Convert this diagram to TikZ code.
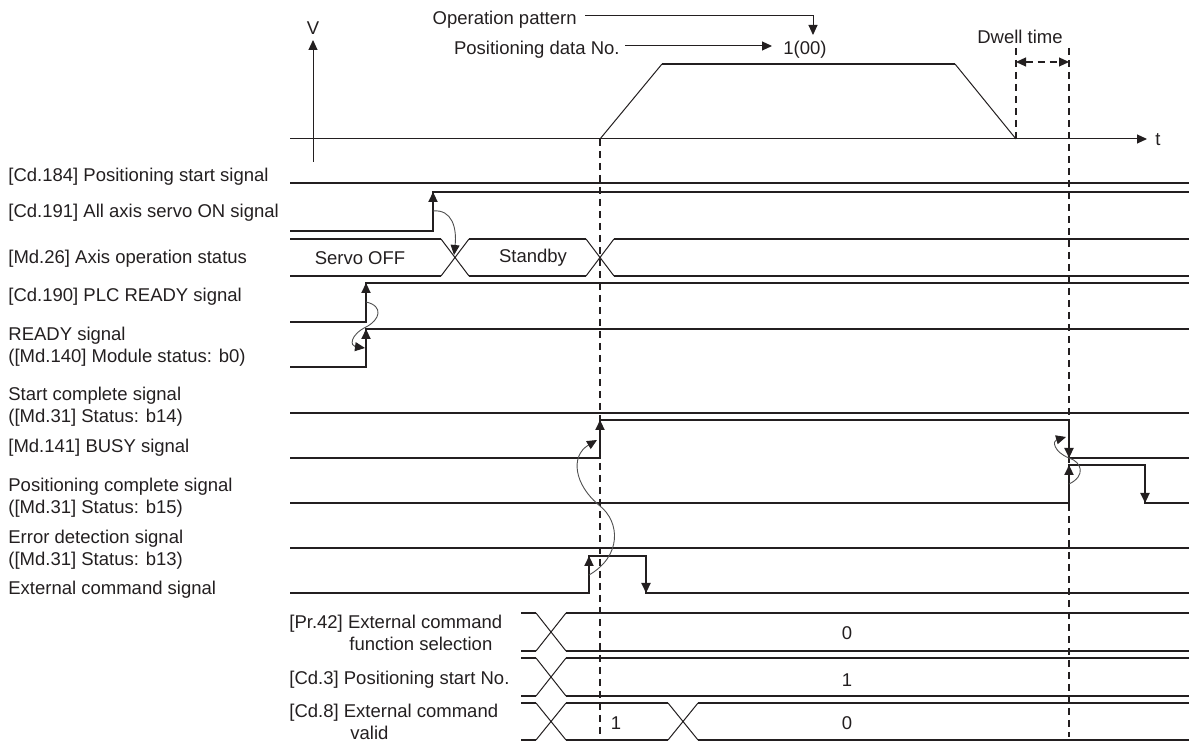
\documentclass[tikz,border=0pt]{standalone}
\usepackage{fontspec}
\setmainfont{Liberation Sans}
\usetikzlibrary{arrows.meta}
\definecolor{ink}{HTML}{231F20}
\definecolor{soft}{HTML}{505050}
\tikzset{
  sig/.style={ink, line width=1.1pt},
  thinl/.style={ink, line width=0.5pt},
  guide/.style={ink, line width=0.55pt, dash pattern=on 3.5pt off 2.5pt},
  curv/.style={draw=soft, line width=0.45pt, -{Triangle[width=4.5pt,length=5pt,color=ink]}},
  lbl/.style={anchor=west, inner sep=0pt, align=left},
  txt/.style={inner sep=0pt}
}

\begin{document}
\begin{tikzpicture}[x=0.5pt, y=-0.5pt, font=\fontsize{9.25}{11}\selectfont, color=ink, >={Triangle[width=4.5pt,length=5pt]}]
    \useasboundingbox (0,0) rectangle (1189,742);
    % speed pattern
    \draw[thinl,->] (313,162) -- (313,40);
    \draw[thinl,->] (290,139) -- (1147,139);
    \node[txt] (vlab) at (313,28) {V};
    \node[txt, anchor=west] (tlab) at (1155,140) {t};
    \draw[thinl] (600,139) -- (662,64);
    \draw[sig] (662,64) -- (955,64);
    \draw[thinl] (955,64) -- (1016,139);
    \node[txt, anchor=base east] (oppat) at (577,25) {Operation pattern};
    \node[txt, anchor=base east] (posno) at (620,55) {Positioning data No.};
    \node[txt, anchor=base west] (dnum) at (783,55) {1(00)};
    \coordinate (optip) at (813,35);
    \draw[thinl,->] ([xshift=4pt]oppat.east |- 0,16) -| (optip);
    \draw[thinl,->] ([xshift=2.5pt]posno.east |- 0,46) -- ([xshift=-5.5pt]dnum.west |- 0,46);
    \node[txt, anchor=base] (dwell) at (1020,44) {Dwell time};
    \draw[guide] (1016,48) -- (1016,139);
    \draw[guide] (1069,48) -- (1069,737);
    \draw[guide] (600,139) -- (600,737);
    \draw[guide,<->] (1016,62) -- (1069,62);

    % signal names
    \node[lbl, anchor=base west] (cd184) at (8,182) {[Cd.184] Positioning start signal};
    \node[lbl, anchor=base west] (cd191) at (8,218) {[Cd.191] All axis servo ON signal};
    \node[lbl, anchor=base west] (md26) at (8,264) {[Md.26] Axis operation status};
    \node[lbl, anchor=base west] (cd190) at (8,302) {[Cd.190] PLC READY signal};
    \node[lbl] (ready) at (8,347) {READY signal\\([Md.140] Module status: b0)};
    \node[lbl] (stcmp) at (8,407) {Start complete signal\\([Md.31] Status: b14)};
    \node[lbl, anchor=base west] (busy) at (8,453) {[Md.141] BUSY signal};
    \node[lbl] (poscmp) at (8,498) {Positioning complete signal\\([Md.31] Status: b15)};
    \node[lbl] (errdet) at (8,550) {Error detection signal\\([Md.31] Status: b13)};
    \node[lbl, anchor=base west] (extcmd) at (8,595) {External command signal};

    % flat signals
    \foreach \y in {183,413,548} { \draw[sig] (290,\y) -- (1189,\y); }

    % servo ON and axis status
    \draw[sig] (290,231) -| (433,192) -- (1189,192);
    \draw[sig,->] (433,206) -- (433,192);
    \draw[sig] (290,239) -- (441,239) (469,239) -- (586,239) (614,239) -- (1189,239);
    \draw[sig] (290,276) -- (441,276) (469,276) -- (586,276) (614,276) -- (1189,276);
    \foreach \c in {455,600} { \draw[thinl] (\c-14,239) -- (\c+14,276) (\c-14,276) -- (\c+14,239); }
    \node[txt] (svoff) at (360,258) {Servo OFF};
    \node[txt] (stby) at (533,258) {Standby};
    \coordinate (svon) at (433,211);
    \coordinate (mdx) at (454,255);
    \draw[curv] (svon) .. controls (452,209) and (457,228) .. (mdx);

    % PLC READY and READY
    \draw[sig] (290,322) -| (366,283) -- (1189,283);
    \draw[sig,->] (366,296) -- (366,283);
    \draw[sig] (290,367) -| (366,329) -- (1189,329);
    \draw[sig,->] (366,342) -- (366,329);
    \coordinate (plcedge) at (366,302);
    \coordinate (rdyedge) at (365,348);
    \draw[curv] (plcedge) .. controls (384,306) and (380,320) .. (366,327)
                .. controls (350,335) and (350,346) .. (rdyedge);

    % BUSY, positioning complete, external command
    \draw[sig] (290,458) -| (600,420) -| (1069,458) -- (1189,458);
    \draw[sig,->] (600,433) -- (600,420);
    \draw[sig,->] (1069,446) -- (1069,458);
    \draw[sig] (290,503) -| (1069,465) -| (1145,503) -- (1189,503);
    \draw[sig,->] (1069,478) -- (1069,465);
    \draw[sig,->] (1145,490) -- (1145,503);
    \draw[sig] (290,593) -| (589,556) -| (646,593) -- (1189,593);
    \draw[sig,->] (589,569) -- (589,556);
    \draw[sig,->] (646,580) -- (646,593);
    \coordinate (extedge) at (589,575);
    \coordinate (busyon) at (597,440);
    \draw[curv] (extedge) .. controls (622,556) and (620,522) .. (600,506)
                .. controls (574,485) and (570,456) .. (busyon);
    \coordinate (pcedge) at (1069,484);
    \coordinate (busyoff) at (1066,437);
    \draw[curv] (pcedge) .. controls (1086,476) and (1082,462) .. (1069,458)
                .. controls (1054,452) and (1052,441) .. (busyoff);

    % parameter and data rows
    \foreach \t/\b in {613/651,658/696} {
      \draw[sig] (521,\t) -- (536,\t) (566,\t) -- (1189,\t);
      \draw[sig] (521,\b) -- (536,\b) (566,\b) -- (1189,\b);
      \draw[thinl] (536,\t) -- (566,\b) (536,\b) -- (566,\t);
    }
    \draw[sig] (521,703) -- (536,703) (566,703) -- (668,703) (698,703) -- (1189,703);
    \draw[sig] (521,740) -- (536,740) (566,740) -- (668,740) (698,740) -- (1189,740);
    \foreach \c in {551,683} { \draw[thinl] (\c-15,703) -- (\c+15,740) (\c-15,740) -- (\c+15,703); }
    \node[lbl] (pr42) at (289,633) {[Pr.42] External command\\\hspace*{30pt}function selection};
    \node[lbl, anchor=base west] (cd3) at (289,685) {[Cd.3] Positioning start No.};
    \node[lbl] (cd8) at (289,722) {[Cd.8] External command\\\hspace*{30.5pt}valid};
    \node[txt] (pr42v) at (847,633) {0};
    \node[txt] (cd3v) at (847,680) {1};
    \node[txt] (cd8a) at (616,723) {1};
    \node[txt] (cd8b) at (847,723) {0};
\end{tikzpicture}
\end{document}
